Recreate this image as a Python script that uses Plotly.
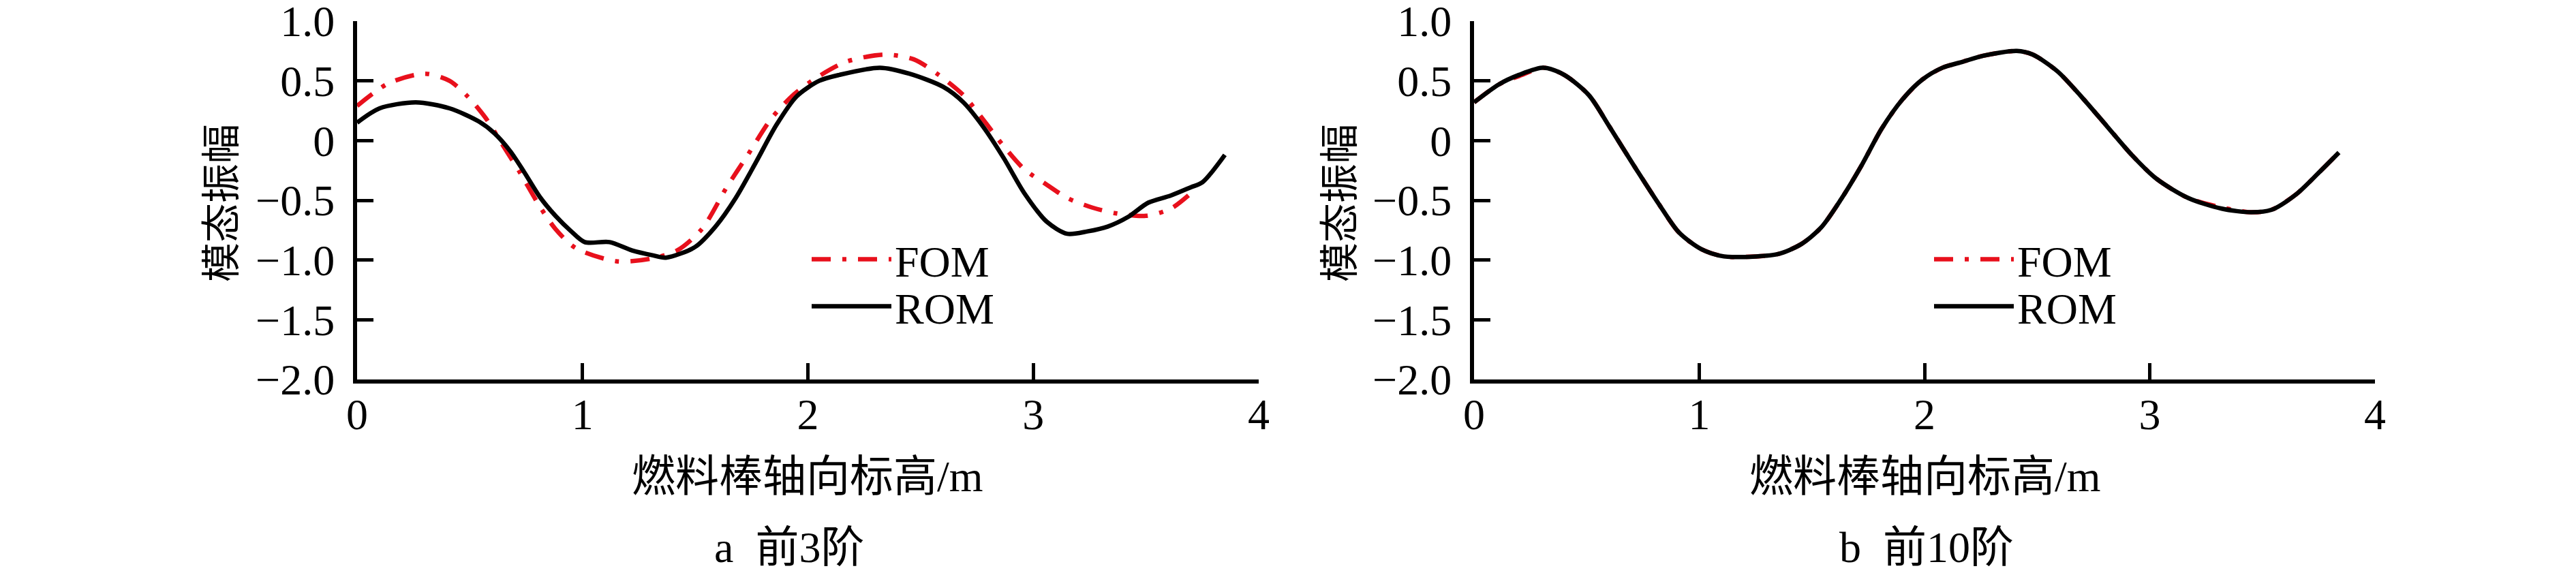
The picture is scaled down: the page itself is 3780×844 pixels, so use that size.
import plotly.graph_objects as go

# ---------------- data ----------------
# Panel a: first 3 modes
a_rom_x = [0.00, 0.10, 0.26, 0.41, 0.54, 0.61, 0.68, 0.74, 0.81, 0.88, 0.95, 1.01, 1.12, 1.22, 1.31,
           1.37, 1.50, 1.59, 1.68, 1.77, 1.86, 1.95, 2.05, 2.14, 2.32, 2.45, 2.60, 2.69, 2.78, 2.87,
           2.96, 3.06, 3.15, 3.24, 3.33, 3.42, 3.51, 3.61, 3.70, 3.75, 3.85]
a_rom_y = [0.15, 0.27, 0.32, 0.27, 0.16, 0.06, -0.09, -0.26, -0.47, -0.63, -0.76, -0.85, -0.85, -0.92, -0.96,
           -0.98, -0.89, -0.72, -0.48, -0.18, 0.13, 0.37, 0.50, 0.55, 0.61, 0.56, 0.45, 0.32, 0.11, -0.15,
           -0.44, -0.68, -0.78, -0.76, -0.72, -0.64, -0.52, -0.46, -0.39, -0.35, -0.12]
a_fom_x = [0.00, 0.14, 0.30, 0.41, 0.49, 0.57, 0.65, 0.72, 0.81, 0.88, 0.97, 1.15, 1.30, 1.42, 1.53,
           1.64, 1.73, 1.84, 1.94, 2.05, 2.17, 2.34, 2.47, 2.58, 2.69, 2.78, 2.87, 2.96, 3.06, 3.15,
           3.26, 3.37, 3.50, 3.61, 3.70]
a_fom_y = [0.29, 0.48, 0.56, 0.50, 0.37, 0.19, -0.05, -0.26, -0.55, -0.74, -0.90, -1.01, -0.99, -0.92, -0.74,
           -0.39, -0.13, 0.19, 0.39, 0.54, 0.66, 0.72, 0.68, 0.55, 0.38, 0.17, -0.05, -0.24, -0.37, -0.48,
           -0.56, -0.61, -0.63, -0.57, -0.44]

# Panel b: first 10 modes
b_x = [0.00, 0.11, 0.20, 0.31, 0.40, 0.51, 0.60, 0.71, 0.82, 0.91, 1.01, 1.11, 1.25, 1.35, 1.45,
       1.54, 1.63, 1.72, 1.81, 1.90, 1.99, 2.08, 2.17, 2.26, 2.41, 2.48, 2.59, 2.70, 2.81, 2.92,
       3.03, 3.17, 3.32, 3.45, 3.54, 3.65, 3.75, 3.84]
b_rom_y = [0.32, 0.47, 0.55, 0.61, 0.55, 0.38, 0.12, -0.21, -0.53, -0.77, -0.91, -0.97, -0.97, -0.95, -0.87,
           -0.73, -0.49, -0.21, 0.10, 0.34, 0.51, 0.61, 0.66, 0.71, 0.75, 0.72, 0.58, 0.36, 0.12, -0.12,
           -0.32, -0.48, -0.57, -0.60, -0.58, -0.45, -0.27, -0.10]
b_fom_y = [0.32, 0.47, 0.54, 0.61, 0.55, 0.38, 0.12, -0.21, -0.53, -0.77, -0.91, -0.97, -0.97, -0.95, -0.87,
           -0.73, -0.49, -0.21, 0.10, 0.34, 0.51, 0.61, 0.66, 0.71, 0.75, 0.72, 0.58, 0.36, 0.12, -0.12,
           -0.32, -0.48, -0.56, -0.60, -0.58, -0.45, -0.27, -0.10]

x_tickvals = [0, 1, 2, 3, 4]
x_ticktext = ["0", "1", "2", "3", "4"]
y_tickvals = [1.0, 0.5, 0.0, -0.5, -1.0, -1.5, -2.0]
y_ticktext = ["1.0", "0.5", "0", "\u22120.5", "\u22121.0", "\u22121.5", "\u22122.0"]

series_names = ["FOM", "ROM"]
x_title = "燃料棒轴向标高/m"
y_title = "模态振幅"
sub_titles = ["a  前3阶", "b  前10阶"]

# ---------------- figure ----------------
W, H = 3780, 844
FONT = "Liberation Serif, Times New Roman, Noto Sans CJK SC"
FS = 64
RED = "#e8101c"
DASH = "28px,17px,6px,17px"
LW = 6.5


def px_x(p):
    return p / W


def px_y(p):
    return 1 - p / H


fig = go.Figure()

fig.add_trace(go.Scatter(x=a_fom_x, y=a_fom_y, name=series_names[0], mode="lines", showlegend=True,
                         line=dict(color=RED, width=LW, dash=DASH, shape="spline", smoothing=0.8),
                         xaxis="x", yaxis="y", legend="legend"))
fig.add_trace(go.Scatter(x=a_rom_x, y=a_rom_y, name=series_names[1], mode="lines", showlegend=True,
                         line=dict(color="black", width=LW, shape="spline", smoothing=0.8),
                         xaxis="x", yaxis="y", legend="legend2"))
fig.add_trace(go.Scatter(x=b_x, y=b_fom_y, name=series_names[0], mode="lines", showlegend=True,
                         line=dict(color=RED, width=LW, dash=DASH, shape="spline", smoothing=0.8),
                         xaxis="x2", yaxis="y2", legend="legend3"))
fig.add_trace(go.Scatter(x=b_x, y=b_rom_y, name=series_names[1], mode="lines", showlegend=True,
                         line=dict(color="black", width=LW, shape="spline", smoothing=0.8),
                         xaxis="x2", yaxis="y2", legend="legend4"))

y_dom = [px_y(549), px_y(23)]
xa_dom = [px_x(516), px_x(1839)]
xb_dom = [px_x(2155), px_x(3477)]

axis_common = dict(showline=True, linecolor="black", linewidth=6, ticks="inside",
                   tickcolor="black", tickwidth=5, ticklen=24, showgrid=False, zeroline=False,
                   automargin=False, ticklabeloverflow="allow",
                   tickfont=dict(family=FONT, size=FS, color="black"))

leg_common = dict(xanchor="left", yanchor="middle", bgcolor="rgba(0,0,0,0)", itemwidth=117,
                  visible=True, font=dict(family=FONT, size=FS, color="black"))

fig.update_layout(
    width=W, height=H,
    showlegend=True,
    margin=dict(l=0, r=0, t=0, b=0, autoexpand=False),
    paper_bgcolor="white", plot_bgcolor="white",
    font=dict(family=FONT, size=FS, color="black"),
    xaxis=dict(domain=xa_dom, range=[0, 4], tickvals=x_tickvals, ticktext=x_ticktext,
               anchor="y", ticklabelstandoff=-10, **axis_common),
    yaxis=dict(domain=y_dom, range=[-2, 1], tickvals=y_tickvals, ticktext=y_ticktext,
               anchor="x", ticklabelstandoff=14, **axis_common),
    xaxis2=dict(domain=xb_dom, range=[0, 4], tickvals=x_tickvals, ticktext=x_ticktext,
                anchor="y2", ticklabelstandoff=-10, **axis_common),
    yaxis2=dict(domain=y_dom, range=[-2, 1], tickvals=y_tickvals, ticktext=y_ticktext,
                anchor="x2", ticklabelstandoff=14, **axis_common),
    legend=dict(x=px_x(1178), y=px_y(373), **leg_common),
    legend2=dict(x=px_x(1178), y=px_y(442), **leg_common),
    legend3=dict(x=px_x(2825), y=px_y(373), **leg_common),
    legend4=dict(x=px_x(2825), y=px_y(442), **leg_common),
)

ann = []
for cx, ytx, sub, sx in [(1177, 317, sub_titles[0], 1150), (2817, 1958, sub_titles[1], 2819)]:
    ann.append(dict(text=x_title, x=px_x(cx), y=px_y(691), xref="paper", yref="paper",
                    xanchor="center", yanchor="middle", showarrow=False,
                    font=dict(family=FONT, size=FS, color="black")))
    ann.append(dict(text=sub, x=px_x(sx), y=px_y(795), xref="paper", yref="paper",
                    xanchor="center", yanchor="middle", showarrow=False,
                    font=dict(family=FONT, size=FS, color="black")))
    ann.append(dict(text=y_title, x=px_x(ytx), y=px_y(290), xref="paper", yref="paper",
                    xanchor="center", yanchor="middle", showarrow=False, textangle=-90,
                    font=dict(family=FONT, size=58, color="black")))
fig.update_layout(annotations=ann)

fig.write_html("out.html")
